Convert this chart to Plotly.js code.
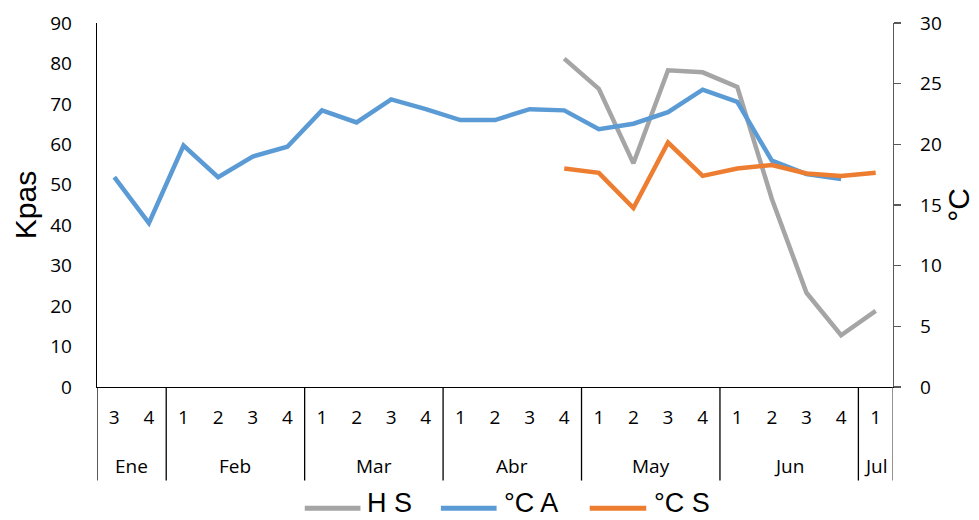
<!DOCTYPE html>
<html>
<head>
<meta charset="utf-8">
<script src="https://cdn.plot.ly/plotly-3.0.1.min.js"></script>
<style>html,body{margin:0;padding:0;background:#fff;}#chart{width:979px;height:520px;}</style>
</head>
<body>
<div id="chart"></div>
<script>
var months = ["Ene","Ene","Feb","Feb","Feb","Feb","Mar","Mar","Mar","Mar","Abr","Abr","Abr","Abr","May","May","May","May","Jun","Jun","Jun","Jun","Jul"];
var weeks  = ["3","4","1","2","3","4","1","2","3","4","1","2","3","4","1","2","3","4","1","2","3","4","1"];

// H S (Kpas, left axis)
var hS  = [null,null,null,null,null,null,null,null,null,null,null,null,null,81.2,73.7,55.3,78.3,77.8,74.2,46.5,23.3,12.8,18.8];
// °C A (right axis)
var cA  = [17.3,13.5,19.9,17.3,19.0,19.8,22.8,21.8,23.7,22.9,22.0,22.0,22.9,22.8,21.25,21.7,22.65,24.5,23.5,18.65,17.55,17.15,null];
// °C S (right axis)
var cS  = [null,null,null,null,null,null,null,null,null,null,null,null,null,18.0,17.65,14.75,20.15,17.4,18.0,18.3,17.6,17.4,17.65];

var seriesNames = ["H S","°C A","°C S"];
var seriesColors = ["#A5A5A5","#5B9BD5","#ED7D31"];

var idx = weeks.map(function(_, i){ return i; });

var traces = [
  {x: idx, y: hS, name: seriesNames[0], type: "scatter", mode: "lines", yaxis: "y",
   line: {color: seriesColors[0], width: 4.5}, connectgaps: false},
  {x: idx, y: cA, name: seriesNames[1], type: "scatter", mode: "lines", yaxis: "y2",
   line: {color: seriesColors[1], width: 4.5}, connectgaps: false},
  {x: idx, y: cS, name: seriesNames[2], type: "scatter", mode: "lines", yaxis: "y2",
   line: {color: seriesColors[2], width: 4.5}, connectgaps: false}
];

var shapes = [], annotations = [];
var tickFont = {family: "Open Sans, Liberation Sans, sans-serif", size: 19, color: "#000"};

// month groups: dividers and labels
var groups = [];
months.forEach(function(m, i){
  if (!groups.length || groups[groups.length-1].name !== m) groups.push({name: m, start: i, end: i});
  else groups[groups.length-1].end = i;
});
var divBottom = -0.257;
groups.forEach(function(g, k){
  shapes.push({type: "line", xref: "x", yref: "paper", x0: g.start - 0.5, x1: g.start - 0.5, y0: 0, y1: divBottom,
    line: {color: "#000", width: 1.3}});
  if (k === groups.length - 1)
    shapes.push({type: "line", xref: "x", yref: "paper", x0: g.end + 0.5, x1: g.end + 0.5, y0: 0, y1: divBottom,
      line: {color: "#595959", width: 1.3}});
  annotations.push({xref: "x", yref: "paper", x: (g.start + g.end) / 2, y: -0.216, xanchor: "center", yanchor: "middle",
    text: g.name, showarrow: false, font: tickFont});
});

// custom legend (longer line samples like the original)
var legX = [[0.261,0.331,0.337],[0.432,0.502,0.509],[0.619,0.690,0.697]];
var legY = -0.333;
for (var i = 0; i < 3; i++) {
  shapes.push({type: "line", xref: "paper", yref: "paper", x0: legX[i][0], x1: legX[i][1], y0: legY, y1: legY,
    line: {color: seriesColors[i], width: 5}});
  annotations.push({xref: "paper", yref: "paper", x: legX[i][2], y: legY + 0.014, xanchor: "left", yanchor: "middle",
    text: seriesNames[i], showarrow: false, font: {family: "Liberation Sans, Arial, sans-serif", size: 27, color: "#000"}});
}

var layout = {
  width: 979, height: 520,
  margin: {l: 97, r: 86, t: 23, b: 133, pad: 0},
  paper_bgcolor: "#fff", plot_bgcolor: "#fff",
  showlegend: false,
  font: tickFont,
  xaxis: {
    range: [-0.5, weeks.length - 0.5],
    tickmode: "array", tickvals: idx, ticktext: weeks,
    showline: true, linecolor: "#000", linewidth: 1.3,
    showgrid: false, zeroline: false, ticks: "",
    ticklabelstandoff: 13,
    tickfont: tickFont, automargin: false
  },
  yaxis: {
    range: [0, 90], dtick: 10, tick0: 0,
    showline: true, linecolor: "#000", linewidth: 1.3,
    showgrid: false, zeroline: false, ticks: "",
    ticklabelstandoff: 20,
    tickfont: tickFont, automargin: false,
    title: {text: "Kpas", font: {family: "Liberation Sans, Arial, sans-serif", size: 30, color: "#000"}, standoff: 4}
  },
  yaxis2: {
    overlaying: "y", side: "right",
    range: [0, 30], dtick: 5, tick0: 0,
    showline: true, linecolor: "#595959", linewidth: 1.3,
    showgrid: false, zeroline: false, ticks: "outside", ticklen: 7, tickcolor: "#595959", tickwidth: 1.3,
    ticklabelstandoff: 15,
    tickfont: tickFont, automargin: false,
    title: {text: "°C", font: {family: "Liberation Sans, Arial, sans-serif", size: 30, color: "#000"}, standoff: 6}
  },
  shapes: shapes,
  annotations: annotations
};

Plotly.newPlot("chart", traces, layout, {displayModeBar: false, staticPlot: true});
</script>
</body>
</html>
